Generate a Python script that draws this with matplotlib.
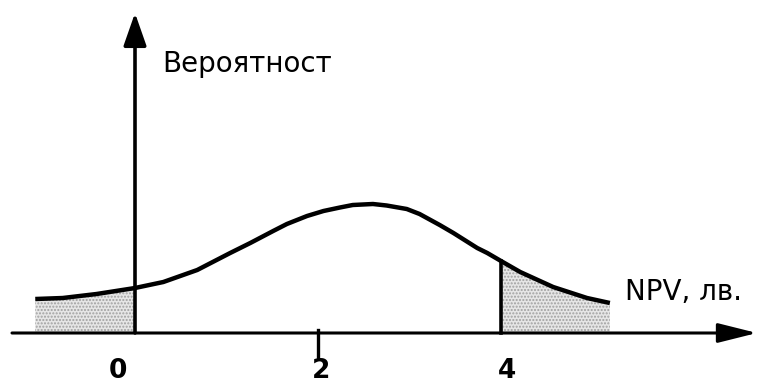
import numpy as np
import matplotlib.pyplot as plt

# curve (x in NPV units, y in arbitrary height units)
curve_x = [-1.09, -0.79, -0.42, 0.0, 0.31, 0.68, 1.04, 1.26, 1.51, 1.66, 1.88, 2.06, 2.24,
           2.38, 2.60, 2.75, 2.97, 3.11, 3.33, 3.48, 3.74, 3.85, 4.0, 4.21, 4.57, 4.94, 5.19]
curve_y = [34, 35, 39, 45, 51, 63, 80, 90, 102, 109, 117, 122, 125.5,
           128, 129, 127.5, 124, 119, 108, 100, 85, 80, 72, 61, 46, 35, 30]

tick_labels = ['0', '2', '4']
label_x = [-0.19, 2.03, 4.07]
cut_low = 0.0
cut_high = 4.0

plt.rcParams['font.family'] = ['DejaVu Sans']

fig = plt.figure(figsize=(7.58, 3.83), dpi=100)
ax = fig.add_axes([0, 0, 1, 1])
ax.set_xlim(-135 / 91.5, (758 - 135) / 91.5)
ax.set_ylim(-50, 333)
ax.axis('off')

x = np.array(curve_x)
y = np.array(curve_y)

# stippled tails
for mask in (x <= cut_low, x >= cut_high):
    ax.fill_between(x[mask], 0, y[mask], facecolor='#e6e6e6', edgecolor='#a0a0a0',
                    hatch='.....', linewidth=0, zorder=1)

ax.plot(x, y, color='black', lw=3.2, solid_capstyle='butt', solid_joinstyle='round', zorder=3)

# vertical line at the upper cut
ax.plot([cut_high, cut_high], [0, y[x == cut_high][0]], color='black', lw=2.6, zorder=3)

# axes with arrows
ax.annotate('', xy=((757 - 135) / 91.5, 0), xytext=(-123 / 91.5, 0),
            arrowprops=dict(arrowstyle='-|>,head_length=24,head_width=6', mutation_scale=1,
                            lw=2.2, color='black', shrinkA=0, shrinkB=0), zorder=4)
ax.annotate('', xy=(0, 320), xytext=(0, 0),
            arrowprops=dict(arrowstyle='-|>,head_length=20,head_width=7', mutation_scale=1,
                            lw=2.6, color='black', shrinkA=0, shrinkB=0), zorder=4)

# tick at 2
ax.plot([2, 2], [3, -25], color='black', lw=2.4, zorder=4)

for lx, lab in zip(label_x, tick_labels):
    ax.text(lx, -45, lab, ha='center', va='baseline', fontsize=19, fontweight='bold')

ax.text(0.295, 261, 'Вероятност', ha='left', va='baseline', fontsize=20)
ax.text(5.36, 33, 'NPV, лв.', ha='left', va='baseline', fontsize=20)

fig.savefig('out.png', dpi=100)
